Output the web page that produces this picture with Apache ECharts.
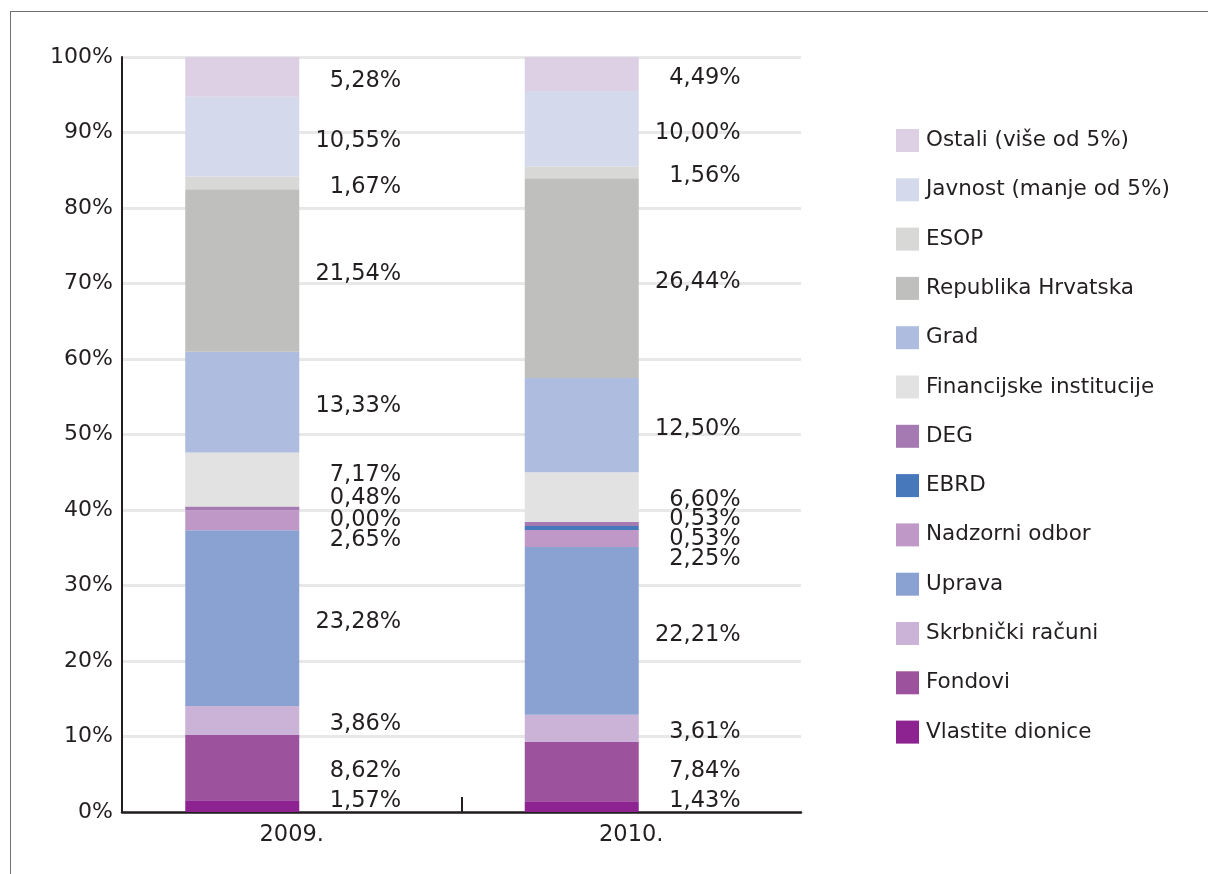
<!DOCTYPE html>
<html>
<head>
<meta charset="utf-8">
<script src="https://cdn.jsdelivr.net/npm/echarts@6/dist/echarts.min.js"></script>
<style>
html, body { margin: 0; padding: 0; background: #fff; }
#main { position: absolute; left: 0; top: 0; width: 1208px; height: 874px; }
#frame { position: absolute; left: 10px; top: 11px; right: 0; bottom: 0;
  border-top: 1px solid #707070; border-left: 1px solid #707070; pointer-events: none; }
</style>
</head>
<body>
<div id="main"></div>
<div id="frame"></div>
<script>
// kategorije
const years = ['2009.', '2010.'];

// udjeli u %, od dna stupca prema vrhu
const vlastiteDionice = [1.57, 1.43];
const fondovi = [8.62, 7.84];
const skrbnickiRacuni = [3.86, 3.61];
const uprava = [23.28, 22.21];
const nadzorniOdbor = [2.65, 2.25];
const ebrd = [0.00, 0.53];
const deg = [0.48, 0.53];
const financijske = [7.17, 6.60];
const grad = [13.33, 12.50];
const republika = [21.54, 26.44];
const esop = [1.67, 1.56];
const javnost = [10.55, 10.00];
const ostali = [5.28, 4.49];

const yTicks = [0, 10, 20, 30, 40, 50, 60, 70, 80, 90, 100];

const stack = [
  { name: 'Vlastite dionice', data: vlastiteDionice, color: '#8c2390' },
  { name: 'Fondovi', data: fondovi, color: '#9d529d' },
  { name: 'Skrbnički računi', data: skrbnickiRacuni, color: '#cab3d6' },
  { name: 'Uprava', data: uprava, color: '#8aa2d2' },
  { name: 'Nadzorni odbor', data: nadzorniOdbor, color: '#bf98c7' },
  { name: 'EBRD', data: ebrd, color: '#4878bc' },
  { name: 'DEG', data: deg, color: '#a57ab3' },
  { name: 'Financijske institucije', data: financijske, color: '#e2e2e2' },
  { name: 'Grad', data: grad, color: '#adbcdf' },
  { name: 'Republika Hrvatska', data: republika, color: '#bfbfbd' },
  { name: 'ESOP', data: esop, color: '#d8d8d6' },
  { name: 'Javnost (manje od 5%)', data: javnost, color: '#d4daec' },
  { name: 'Ostali (više od 5%)', data: ostali, color: '#ddcfe4' },
];

// pomak natpisa (px) da se ne preklapaju
const nudge = {
  'Vlastite dionice': [-5, -5],
  'Fondovi': [4, 0],
  'Nadzorni odbor': [20, 21],
  'EBRD': [10, 11],
  'DEG': [-10, -5],
  'Financijske institucije': [-4, 3],
};

const txt = '#231f20';
const font = 'DejaVu Sans';

const myChart = echarts.init(document.getElementById('main'));

const series = stack.map((s) => ({
  name: s.name,
  type: 'bar',
  stack: 'total',
  barWidth: 114,
  barGap: 0,
  itemStyle: { color: s.color },
  label: {
    show: true,
    position: 'right',
    distance: 102,
    align: 'right',
    fontSize: 22.5,
    fontFamily: font,
    color: txt,
    formatter: (p) => p.value.toFixed(2).replace('.', ',') + '%',
  },
  data: s.data.map((v, i) => ({
    value: v,
    label: { offset: [0, nudge[s.name] ? nudge[s.name][i] : 4] },
  })),
}));

// prazan stupac koji gura prave stupce ulijevo
series.push({
  name: 'ph',
  type: 'bar',
  stack: 'ph',
  barWidth: 99,
  barGap: 0,
  silent: true,
  itemStyle: { color: 'rgba(0,0,0,0)' },
  data: [0, 0],
});

const option = {
  animation: false,
  grid: { left: 122, right: 407, top: 57, bottom: 62, outerBoundsMode: 'none' },
  legend: {
    data: stack.map((s) => s.name).reverse(),
    orient: 'vertical',
    left: 891,
    top: 124,
    icon: 'rect',
    itemWidth: 23,
    itemHeight: 23,
    itemGap: 26.3,
    selectedMode: false,
    textStyle: { fontSize: 21.5, color: txt, fontFamily: font, padding: [0, 0, 0, 2] },
  },
  xAxis: [
    {
      type: 'category',
      data: years,
      position: 'bottom',
      axisLine: { show: true, lineStyle: { color: txt, width: 2.5 } },
      axisTick: { show: false },
      axisLabel: { fontSize: 22.5, fontFamily: font, color: txt, margin: 12 },
      splitLine: { show: false },
    },
    {
      type: 'value',
      min: 0,
      max: 2,
      position: 'bottom',
      axisLine: { show: false },
      axisLabel: { show: false },
      splitLine: { show: false },
      axisTick: {
        show: true,
        inside: true,
        length: 15,
        customValues: [1],
        lineStyle: { color: txt, width: 2 },
      },
    },
  ],
  yAxis: {
    type: 'value',
    min: 0,
    max: 100,
    interval: 10,
    axisLine: { show: true, lineStyle: { color: txt, width: 2 } },
    axisTick: { show: false },
    axisLabel: {
      fontSize: 22,
      fontFamily: font,
      color: txt,
      margin: 9,
      customValues: yTicks,
      formatter: '{value}%',
    },
    splitLine: { show: true, lineStyle: { color: '#e8e8e8', width: 3 } },
  },
  series: series,
};

option && myChart.setOption(option);
</script>
</body>
</html>
